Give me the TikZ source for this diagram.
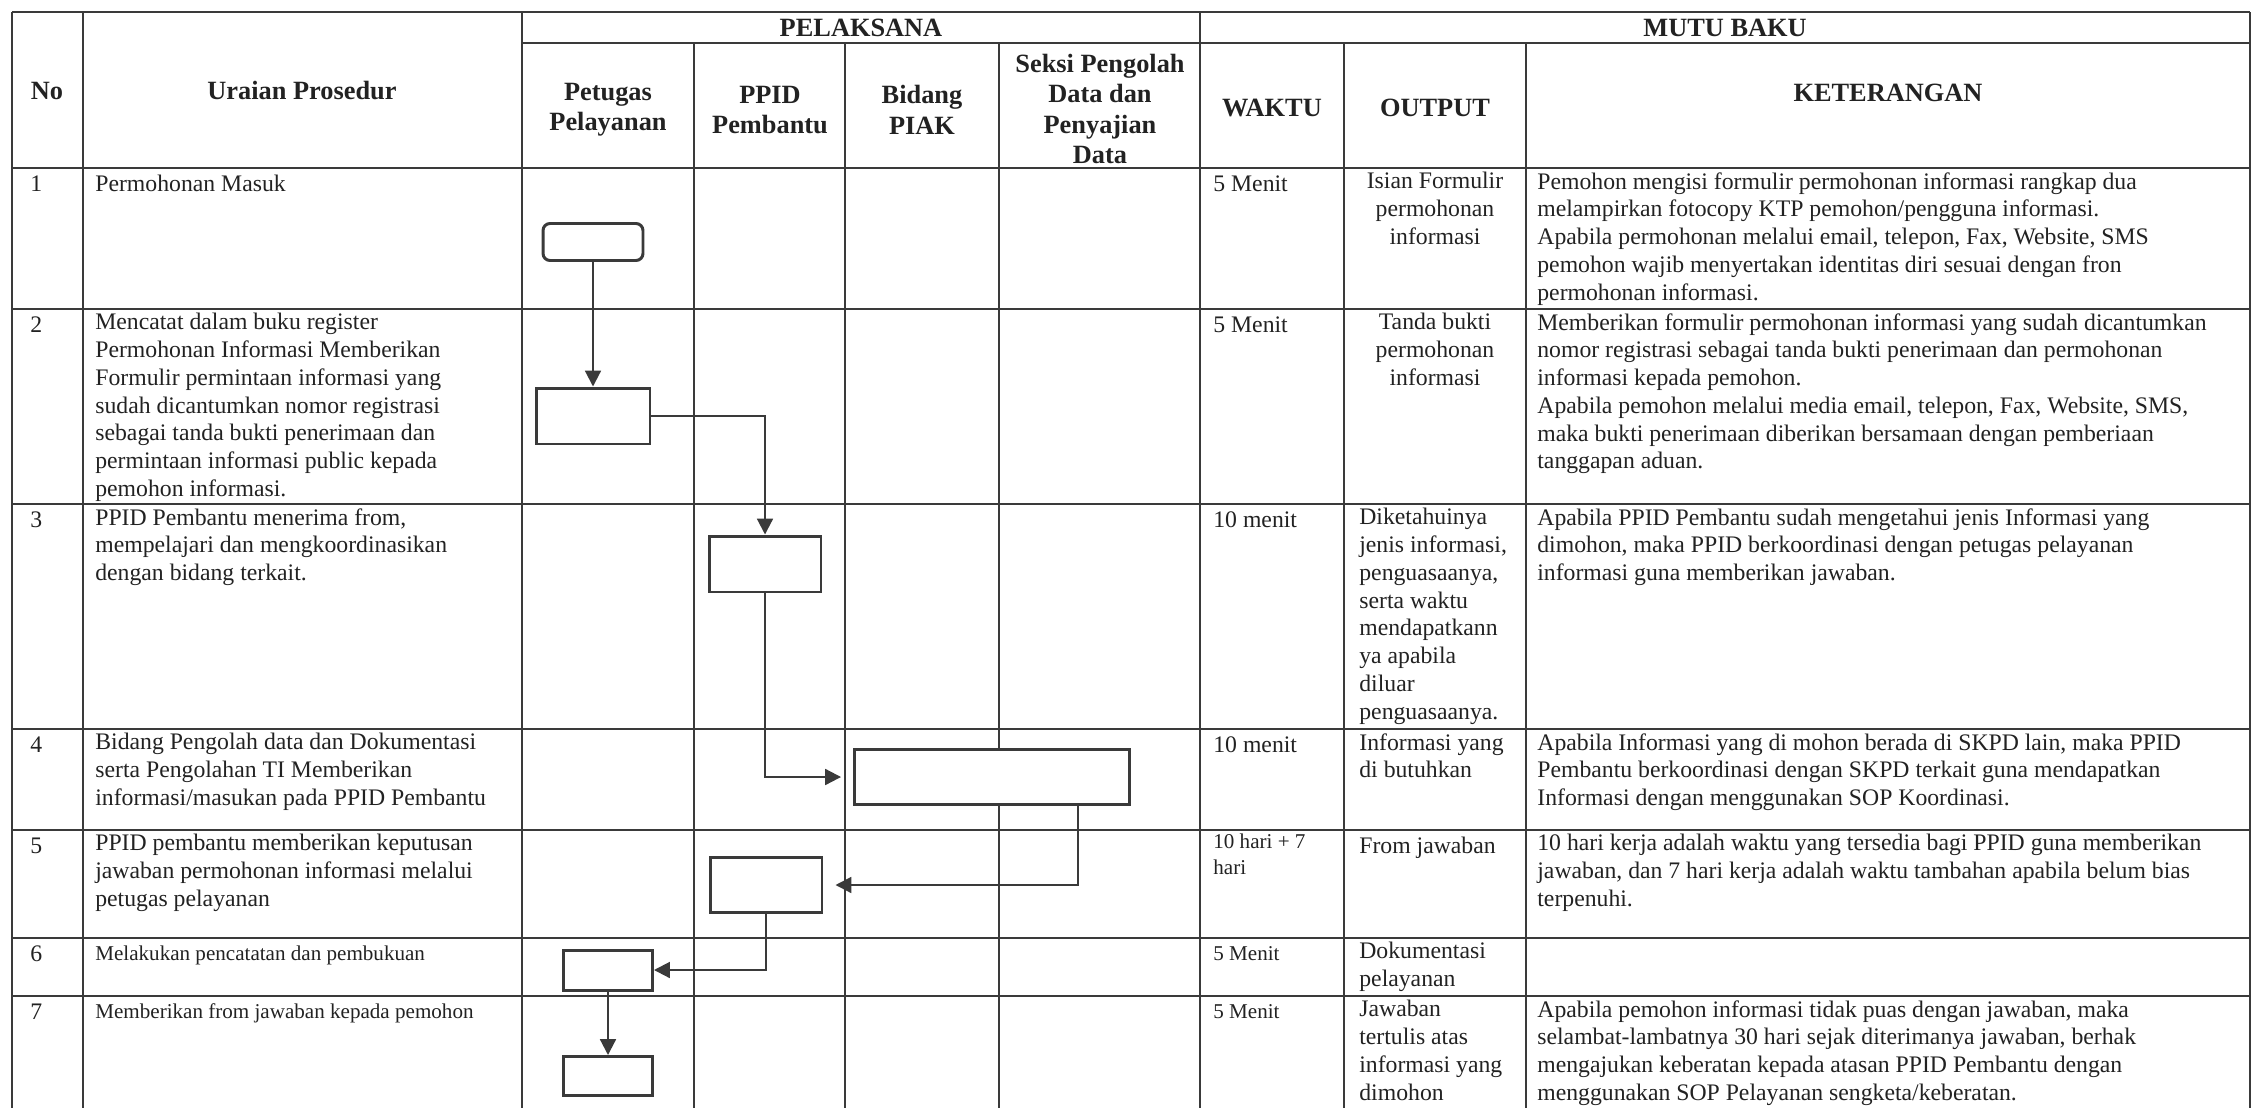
\documentclass[tikz,border=0pt]{standalone}
\usepackage{fontspec}
\setmainfont{Liberation Serif}
\usetikzlibrary{arrows.meta}

\definecolor{inkgray}{HTML}{222222}
\definecolor{rulegray}{HTML}{3A3A3A}

\newcommand{\bodyfont}{\fontsize{13.5}{15.8}\selectfont}
\newcommand{\smallfont}{\fontsize{12}{14.5}\selectfont}
\newcommand{\headfont}{\fontsize{15}{17.3}\selectfont\bfseries}

\tikzset{
  gridline/.style={draw=rulegray, line width=0.8pt},
  cell/.style={anchor=north west, inner sep=0pt, align=left, text=inkgray,
    font=\bodyfont, execute at begin node=\strut},
  smallcell/.style={cell, font=\smallfont},
  midcell/.style={cell, anchor=north, align=center},
  head/.style={inner sep=0pt, align=center, text=inkgray, font=\headfont},
  procbox/.style={draw=rulegray, line width=1.7pt, fill=white, inner sep=0pt},
  flow/.style={draw=rulegray, line width=1.2pt, -{Triangle[length=9pt,width=9pt]}},
}

\begin{document}
\begin{tikzpicture}[x=0.02cm, y=-0.02cm]

\useasboundingbox (0,0) rectangle (2253,1108);

% table
\draw[gridline] (12,12) -- (2250,12);
\draw[gridline] (522,43) -- (2250,43);
\foreach \ry in {168,309,504,729,830,938,996}
  \draw[gridline] (12,\ry) -- (2250,\ry);
\foreach \cx in {12,83,522,1200,2250}
  \draw[gridline] (\cx,12) -- (\cx,1108);
\foreach \cx in {694,845,999,1344,1526}
  \draw[gridline] (\cx,43) -- (\cx,1108);

% header
\node[head] (hpel) at (861,28) {PELAKSANA};
\node[head] (hmutu) at (1725,28) {MUTU BAKU};
\node[head] (hno) at (47,91) {No};
\node[head] (hur) at (302,91) {Uraian Prosedur};
\node[head] (hpet) at (608,110) {Petugas\\Pelayanan};
\node[head] (hppid) at (770,110) {PPID\\Pembantu};
\node[head] (hbid) at (922,110) {Bidang\\PIAK};
\node[head] (hsek) at (1100,109) {Seksi Pengolah\\Data dan\\Penyajian\\Data};
\node[head] (hwak) at (1272,108) {WAKTU};
\node[head] (hout) at (1435,108) {OUTPUT};
\node[head] (hket) at (1888,93) {KETERANGAN};

% row 1
\node[cell] (no1) at (30,172) {1};
\node[cell] (ur1) at (95,172) {Permohonan Masuk};
\node[cell] (wk1) at (1213,172) {5 Menit};
\node[midcell] (out1) at (1435,172) {Isian Formulir\\permohonan\\informasi};
\node[cell] (ket1) at (1537,172) {Pemohon mengisi formulir permohonan informasi rangkap dua\\melampirkan fotocopy KTP pemohon/pengguna informasi.\\Apabila permohonan melalui email, telepon, Fax, Website, SMS\\pemohon wajib menyertakan identitas diri sesuai dengan fron\\permohonan informasi.};

% row 2
\node[cell] (no2) at (30,313) {2};
\node[cell] (ur2) at (95,313) {Mencatat dalam buku register\\Permohonan Informasi Memberikan\\Formulir permintaan informasi yang\\sudah dicantumkan nomor registrasi\\sebagai tanda bukti penerimaan dan\\permintaan informasi public kepada\\pemohon informasi.};
\node[cell] (wk2) at (1213,313) {5 Menit};
\node[midcell] (out2) at (1435,313) {Tanda bukti\\permohonan\\informasi};
\node[cell] (ket2) at (1537,313) {Memberikan formulir permohonan informasi yang sudah dicantumkan\\nomor registrasi sebagai tanda bukti penerimaan dan permohonan\\informasi kepada pemohon.\\Apabila pemohon melalui media email, telepon, Fax, Website, SMS,\\maka bukti penerimaan diberikan bersamaan dengan pemberiaan\\tanggapan aduan.};

% row 3
\node[cell] (no3) at (30,508) {3};
\node[cell] (ur3) at (95,508) {PPID Pembantu menerima from,\\mempelajari dan mengkoordinasikan\\dengan bidang terkait.};
\node[cell] (wk3) at (1213,508) {10 menit};
\node[cell] (out3) at (1359,508) {Diketahuinya\\jenis informasi,\\penguasaanya,\\serta waktu\\mendapatkann\\ya apabila\\diluar\\penguasaanya.};
\node[cell] (ket3) at (1537,508) {Apabila PPID Pembantu sudah mengetahui jenis Informasi yang\\dimohon, maka PPID berkoordinasi dengan petugas pelayanan\\informasi guna memberikan jawaban.};

% row 4
\node[cell] (no4) at (30,733) {4};
\node[cell] (ur4) at (95,733) {Bidang Pengolah data dan Dokumentasi\\serta Pengolahan TI Memberikan\\informasi/masukan pada PPID Pembantu};
\node[cell] (wk4) at (1213,733) {10 menit};
\node[cell] (out4) at (1359,733) {Informasi yang\\di butuhkan};
\node[cell] (ket4) at (1537,733) {Apabila Informasi yang di mohon berada di SKPD lain, maka PPID\\Pembantu berkoordinasi dengan SKPD terkait guna mendapatkan\\Informasi dengan menggunakan SOP Koordinasi.};

% row 5
\node[cell] (no5) at (30,834) {5};
\node[cell] (ur5) at (95,834) {PPID pembantu memberikan keputusan\\jawaban permohonan informasi melalui\\petugas pelayanan};
\node[smallcell] (wk5) at (1213,834) {10 hari + 7\\hari};
\node[cell] (out5) at (1359,834) {From jawaban};
\node[cell] (ket5) at (1537,834) {10 hari kerja adalah waktu yang tersedia bagi PPID guna memberikan\\jawaban, dan 7 hari kerja adalah waktu tambahan apabila belum bias\\terpenuhi.};

% row 6
\node[cell] (no6) at (30,942) {6};
\node[smallcell] (ur6) at (95,942) {Melakukan pencatatan dan pembukuan};
\node[smallcell] (wk6) at (1213,942) {5 Menit};
\node[cell] (out6) at (1359,942) {Dokumentasi\\pelayanan};

% row 7
\node[cell] (no7) at (30,1000) {7};
\node[smallcell] (ur7) at (95,1000) {Memberikan from jawaban kepada pemohon};
\node[smallcell] (wk7) at (1213,1000) {5 Menit};
\node[cell] (out7) at (1359,1000) {Jawaban\\tertulis atas\\informasi yang\\dimohon};
\node[cell] (ket7) at (1537,1000) {Apabila pemohon informasi tidak puas dengan jawaban, maka\\selambat-lambatnya 30 hari sejak diterimanya jawaban, berhak\\mengajukan keberatan kepada atasan PPID Pembantu dengan\\menggunakan SOP Pelayanan sengketa/keberatan.};

% flow
\node[procbox, rounded corners=4pt, minimum width=2cm, minimum height=0.74cm] (start) at (593,242) {};
\node[procbox, minimum width=2.28cm, minimum height=1.12cm] (reg) at (593,416) {};
\node[procbox, minimum width=2.24cm, minimum height=1.12cm] (koord) at (765,564) {};
\node[procbox, minimum width=5.5cm, minimum height=1.1cm] (olah) at (992,777) {};
\node[procbox, minimum width=2.24cm, minimum height=1.1cm] (putus) at (766,885) {};
\node[procbox, minimum width=1.78cm, minimum height=0.8cm] (catat) at (608,970) {};
\node[procbox, minimum width=1.78cm, minimum height=0.78cm] (beri) at (608,1076) {};

\coordinate (olahout) at ([xshift=-1.06cm]olah.south east);

\draw[flow] (start.south) -- (reg.north);
\draw[flow] (reg.east) -| (koord.north);
\draw[flow, shorten >=0.24cm] (koord.south) |- (olah.west);
\draw[flow, shorten >=0.24cm] (olahout) |- (putus.east);
\draw[flow] (putus.south) |- (catat.east);
\draw[flow] (catat.south) -- (beri.north);

\end{tikzpicture}
\end{document}
